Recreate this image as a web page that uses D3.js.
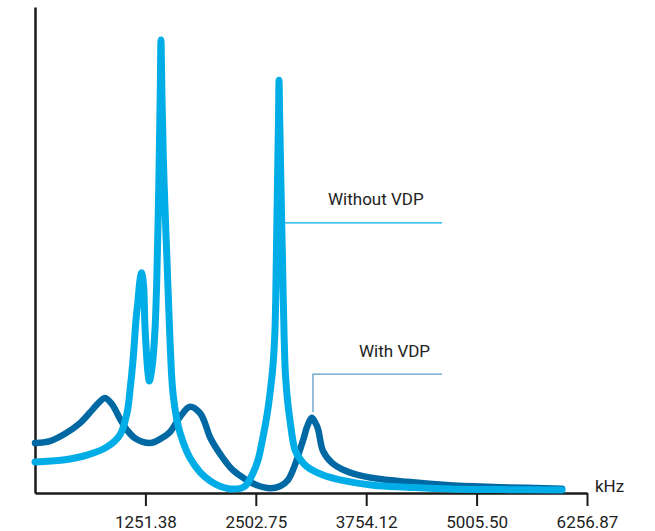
<!DOCTYPE html>
<html>
<head>
<meta charset="utf-8">
<script src="https://cdn.jsdelivr.net/npm/d3@7"></script>
<style>
  html, body { margin: 0; padding: 0; background: #fff; }
  svg { display: block; }
  text { font-family: Roboto, "DejaVu Sans", sans-serif; fill: #222; }
</style>
</head>
<body>
<svg id="chart" width="655" height="531"></svg>
<script>
// Frequency in kHz, amplitude in arbitrary units
const withoutFreq = [0, 317, 589, 816, 963, 1043, 1077, 1111, 1145, 1168, 1190, 1209, 1230, 1247, 1281, 1296, 1327, 1360, 1383, 1406, 1420, 1428, 1440, 1462, 1496, 1530, 1564, 1621, 1678, 1757, 1870, 1984, 2097, 2244, 2380, 2471, 2528, 2584, 2630, 2664, 2698, 2720, 2737, 2749, 2760, 2766, 2774, 2789, 2805, 2822, 2839, 2868, 2890, 2947, 3004, 3083, 3264, 3457, 3831, 4217, 4704, 5271, 5974];
const withoutAmp  = [6.2, 6.6, 7.6, 9.3, 11.8, 16.3, 21.0, 27.2, 35.5, 39.6, 43.7, 45.2, 42.7, 34.0, 24.5, 22.9, 25.8, 33.4, 45.8, 66.4, 82.9, 93.2, 80.8, 64.3, 47.8, 31.3, 20.4, 13.8, 10.3, 7.0, 4.1, 2.3, 1.2, 0.6, 1.2, 3.9, 6.6, 11.3, 15.9, 20.4, 26.2, 33.4, 49.9, 64.3, 76.7, 84.9, 76.7, 62.3, 47.8, 33.4, 24.1, 17.9, 14.8, 8.7, 6.8, 5.2, 3.5, 2.5, 1.4, 1.0, 0.6, 0.5, 0.4];

const withFreq = [0, 170, 340, 510, 657, 737, 793, 873, 963, 1043, 1134, 1304, 1417, 1530, 1644, 1757, 1870, 1927, 1984, 2131, 2244, 2380, 2516, 2664, 2777, 2868, 2947, 3004, 3049, 3083, 3136, 3174, 3208, 3264, 3366, 3480, 3627, 3831, 4217, 4704, 5271, 5974];
const withAmp  = [10.1, 10.5, 12.0, 14.2, 17.1, 18.7, 19.4, 18.1, 15.1, 12.8, 11.1, 10.1, 10.9, 12.4, 15.5, 17.6, 16.3, 14.2, 11.3, 7.0, 4.5, 2.7, 1.4, 0.8, 1.2, 2.5, 5.6, 8.7, 11.3, 13.4, 15.3, 14.4, 13.0, 8.5, 6.0, 4.7, 3.7, 2.9, 2.1, 1.4, 1.0, 0.7];

const tickValues = [1251.38, 2502.75, 3754.12, 5005.50, 6256.87];
const tickLabels = ["1251.38", "2502.75", "3754.12", "5005.50", "6256.87"];
const unitLabel = "kHz";
const seriesNames = ["Without VDP", "With VDP"];

const svg = d3.select("#chart");
const x = d3.scaleLinear().domain([0, 6256.87]).range([35, 587]);
const y = d3.scaleLinear().domain([-0.2, 100]).range([493, 7]);

const lightBlue = "#00ade6";
const darkBlue = "#0068a2";

// x axis
const xAxis = d3.axisBottom(x)
  .tickValues(tickValues)
  .tickFormat((d, i) => tickLabels[i])
  .tickSize(13)
  .tickSizeOuter(0)
  .tickPadding(10);
const gx = svg.append("g").attr("transform", `translate(0,${y.range()[0]})`).call(xAxis);
gx.select(".domain").attr("stroke", "#1a1a1a").attr("stroke-width", 2.5);
gx.selectAll(".tick line").attr("stroke", "#1a1a1a").attr("stroke-width", 2);
gx.selectAll(".tick text").attr("font-size", 17).attr("font-family", "Roboto, sans-serif").attr("fill", "#222");

// y axis (no ticks)
const yAxis = d3.axisLeft(y).tickValues([]).tickSizeOuter(0);
const gy = svg.append("g").attr("transform", `translate(${x(0)},0)`).call(yAxis);
gy.select(".domain").attr("stroke", "#1a1a1a").attr("stroke-width", 2.5);

svg.append("text")
  .attr("x", 595).attr("y", 492)
  .attr("font-size", 17)
  .text(unitLabel);

const line = d3.line().x(d => x(d[0])).y(d => y(d[1])).curve(d3.curveCatmullRom.alpha(0.5));

const withData = withFreq.map((f, i) => [f, withAmp[i]]);
const withoutData = withoutFreq.map((f, i) => [f, withoutAmp[i]]);

svg.append("path").datum(withData)
  .attr("d", line).attr("fill", "none")
  .attr("stroke", darkBlue).attr("stroke-width", 6.5)
  .attr("stroke-linecap", "round").attr("stroke-linejoin", "round");

svg.append("path").datum(withoutData)
  .attr("d", line).attr("fill", "none")
  .attr("stroke", lightBlue).attr("stroke-width", 7)
  .attr("stroke-linecap", "round").attr("stroke-linejoin", "round");

// annotations
svg.append("line")
  .attr("x1", x(2805)).attr("x2", x(4613))
  .attr("y1", y(55.5)).attr("y2", y(55.5))
  .attr("stroke", lightBlue).attr("stroke-width", 1.3);
svg.append("text")
  .attr("x", x(3321)).attr("y", y(59.2))
  .attr("font-size", 17)
  .text(seriesNames[0]);

svg.append("path")
  .attr("d", `M${x(4613)},${y(24.3)}H${x(3151)}V${y(16.5)}`)
  .attr("fill", "none")
  .attr("stroke", "#5e9ac6").attr("stroke-width", 1.3);
svg.append("text")
  .attr("x", x(3673)).attr("y", y(27.8))
  .attr("font-size", 17)
  .text(seriesNames[1]);
</script>
</body>
</html>
